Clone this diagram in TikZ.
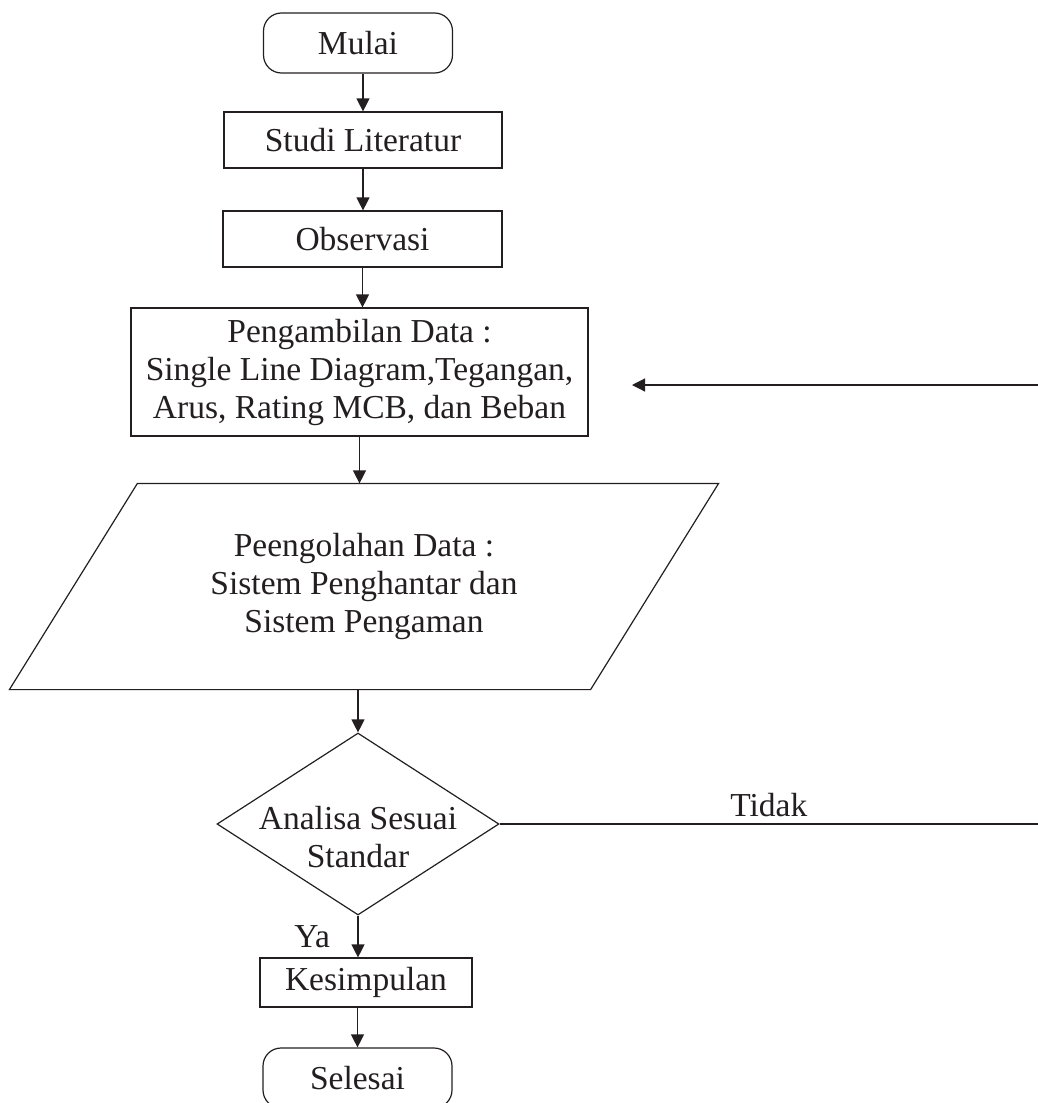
\documentclass[tikz,border=0pt]{standalone}
\usepackage{fontspec}
\setmainfont{Liberation Serif}
\usepackage{tikz}
\usetikzlibrary{arrows.meta,shapes.geometric,positioning}
\definecolor{ink}{HTML}{231F20}

\begin{document}
\begin{tikzpicture}[x=1pt,y=-1pt,>={Triangle[length=13pt,width=13pt]},
  line width=1.2pt,color=ink,
  every node/.style={font=\fontsize{33.5}{38}\selectfont},
  terminal/.style={draw,rounded corners=18pt,minimum width=189pt,minimum height=60pt},
  proses/.style={draw,inner sep=6pt,minimum height=56pt},
  alur/.style={->}]
\useasboundingbox (0,0) rectangle (1038,1103);
\clip (0,0) rectangle (1038,1103);
\node[terminal] (mulai) at (358,43) {Mulai};
\node[proses,minimum width=278pt] (studi) at (363,140) {Studi Literatur};
\node[proses,minimum width=279pt] (obs) at (362.5,239) {Observasi};
\node[proses,minimum width=457pt,minimum height=128pt,align=center] (ambil) at (359.5,372)
  {Pengambilan Data :\\ Single Line Diagram,Tegangan,\\ Arus, Rating MCB, dan Beban};
\node[minimum width=580pt,minimum height=205pt,inner sep=0pt,align=center] (olah) at (364,586.5)
  {Peengolahan Data :\\ Sistem Penghantar dan\\ Sistem Pengaman};
\draw ([xshift=64pt]olah.north west) -- ([xshift=64pt]olah.north east)
  -- ([xshift=-64pt]olah.south east) -- ([xshift=-64pt]olah.south west) -- cycle;
\node[draw,diamond,minimum width=282pt,minimum height=182pt,inner sep=0pt] (cek) at (358,824) {};
\node[align=center] (cektxt) at (358,837) {Analisa Sesuai\\ Standar};
\node[proses,minimum width=212pt,minimum height=49pt] (simpul) at (366,982.5) {Kesimpulan};
\node[terminal] (selesai) at (357.5,1078) {Selesai};
\coordinate (tepi) at (1038,824);
\coordinate (balik) at (1038,385);
\coordinate (balikujung) at (632,385);

\draw[alur] (studi.north |- mulai.south) -- (studi.north);
\draw[alur] (studi.south) -- (studi.south |- obs.north);
\draw[alur] (obs.south) -- (obs.south |- ambil.north);
\draw[alur] (ambil.south) -- (ambil.south |- olah.north);
\draw[alur] (cek.north |- olah.south) -- (cek.north);
\draw[alur] (cek.south) -- (cek.south |- simpul.north) node[midway,left=24pt] (ya) {Ya};
\draw[alur] (simpul.south -| selesai.north) -- (selesai.north);
\draw (cek.east) -- (tepi) node[midway,above=3pt] (tidak) {Tidak};
\draw[alur] (balik) -- (balikujung);
\end{tikzpicture}
\end{document}
